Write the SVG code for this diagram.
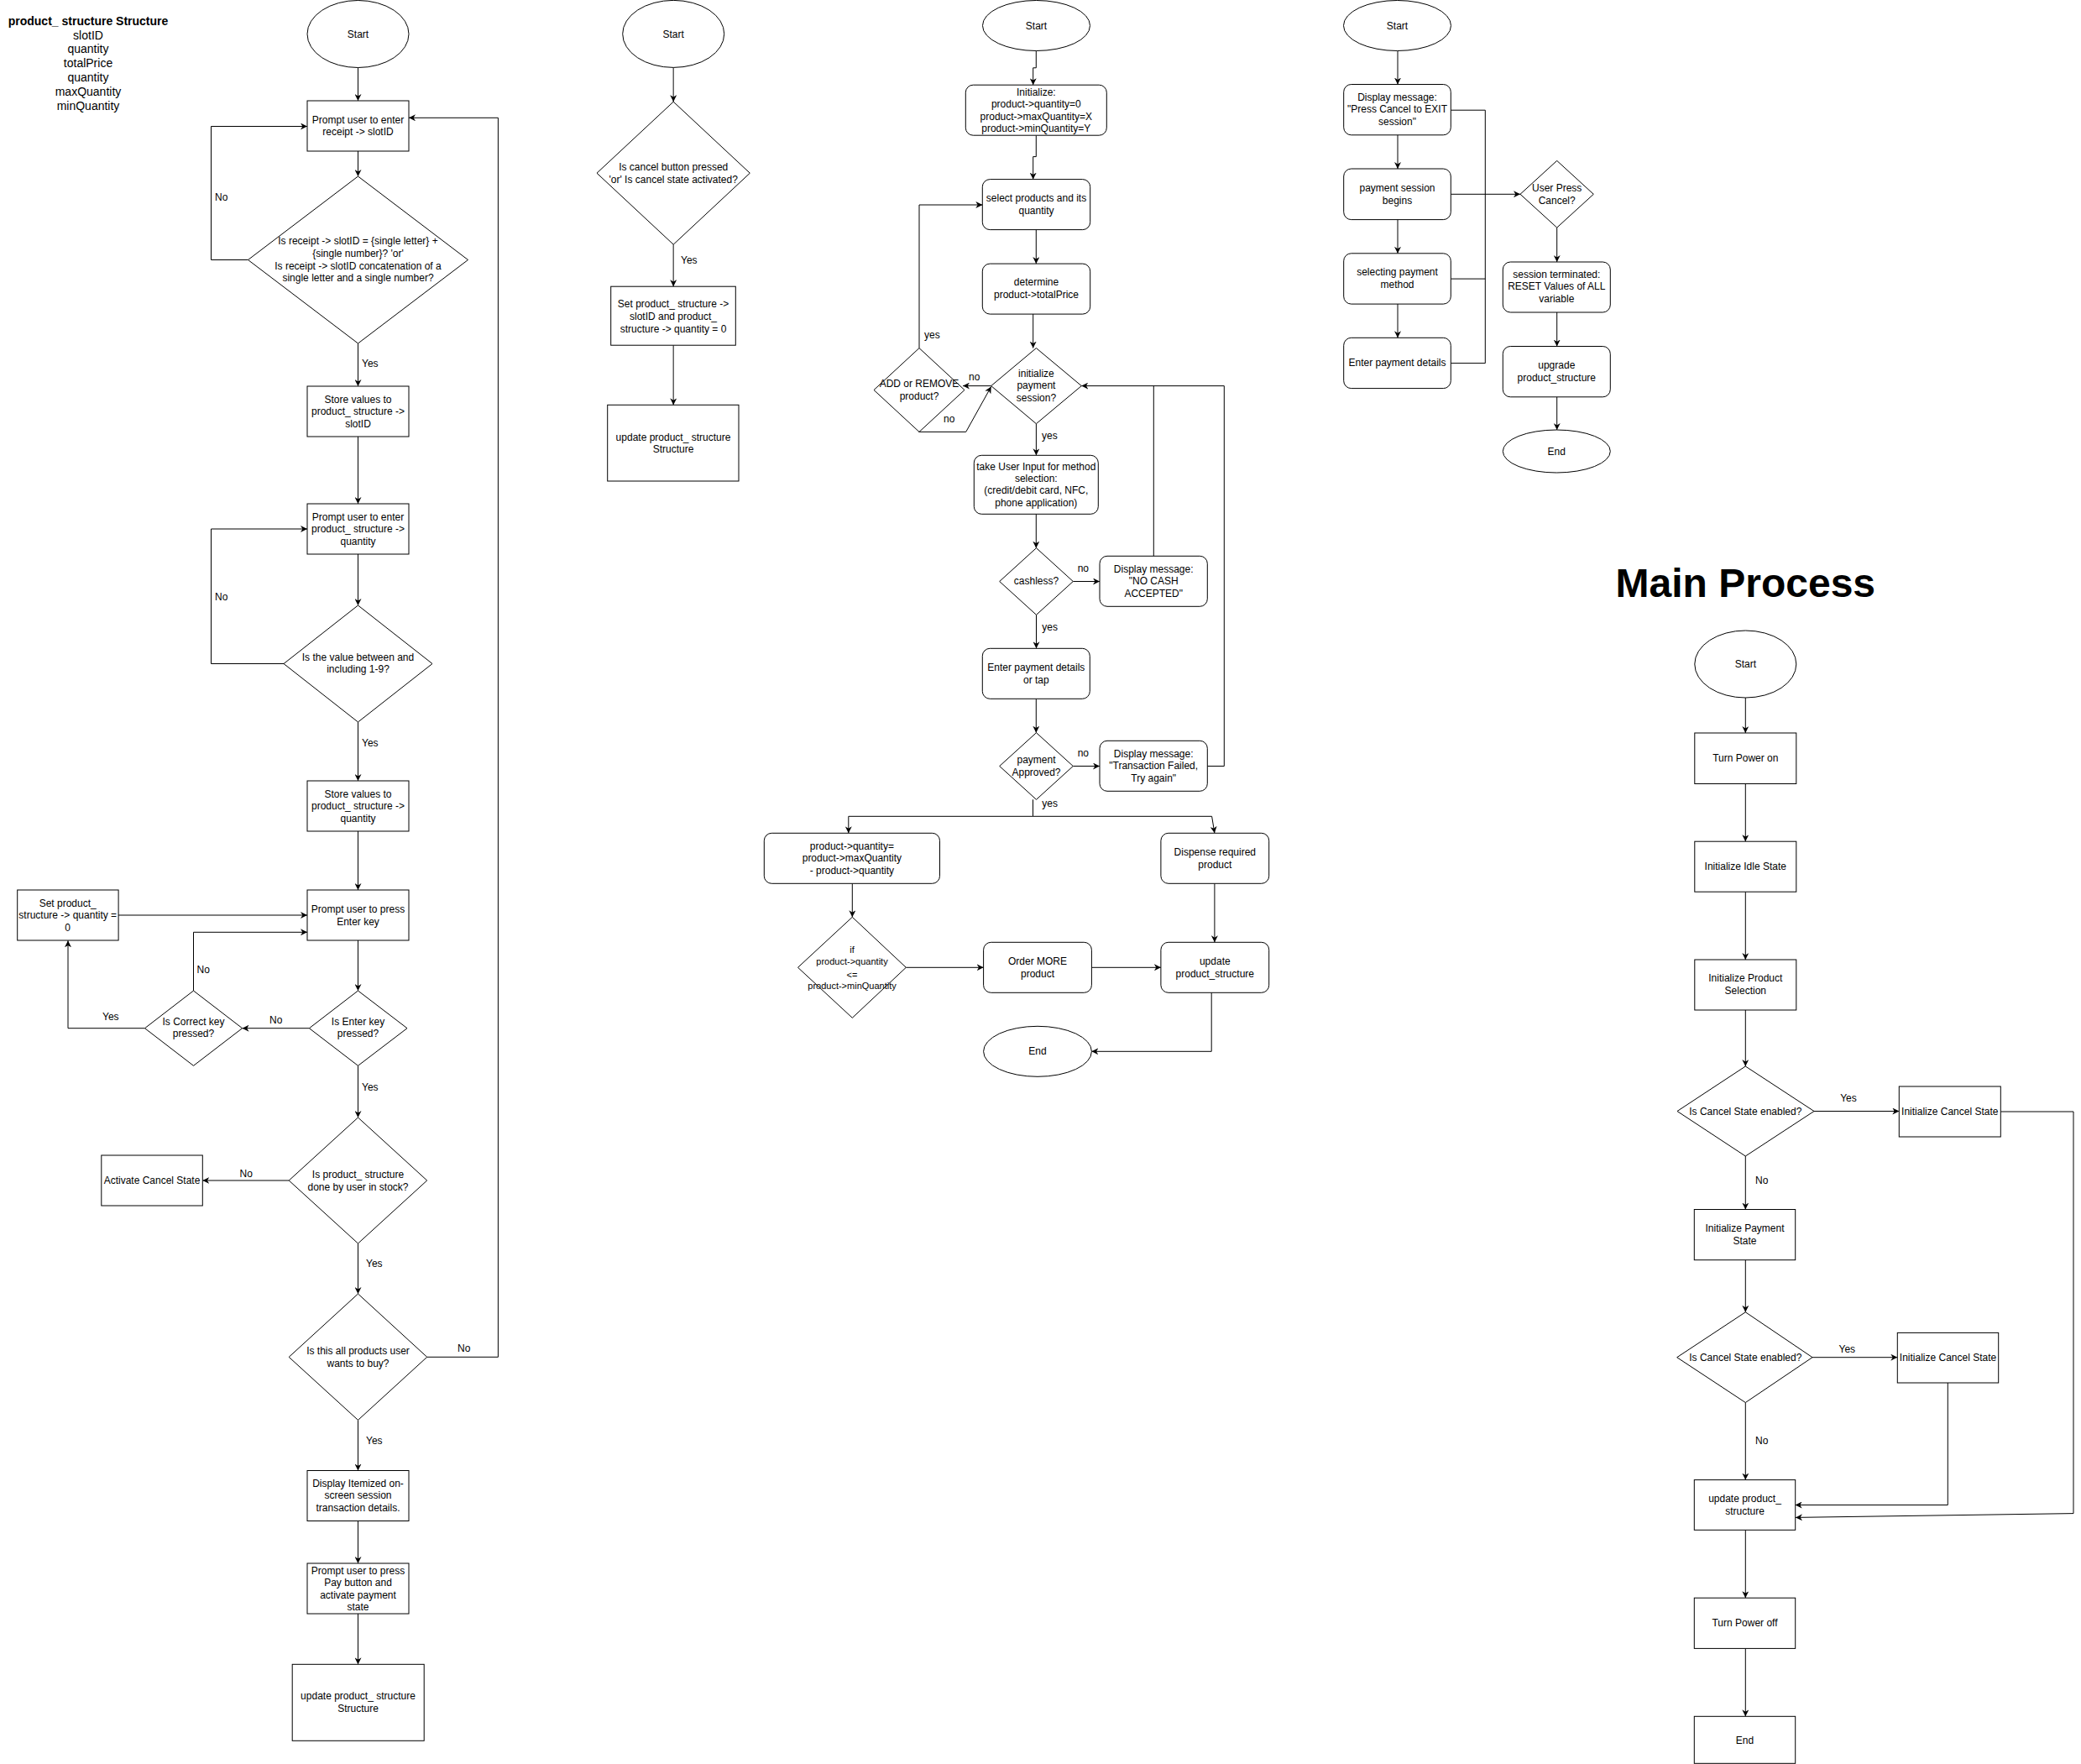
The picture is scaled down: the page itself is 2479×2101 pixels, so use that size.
<svg xmlns="http://www.w3.org/2000/svg" width="2479" height="2101" viewBox="0 0 2479 2101">
<style>
.n{fill:#fff;stroke:#000;stroke-width:1}
.t{font-family:"Liberation Sans",Arial,sans-serif;font-size:12px;fill:#000;text-anchor:middle}
.s{font-size:11px}
.h{font-family:"Liberation Sans",Arial,sans-serif;font-size:14px;fill:#000;text-anchor:middle}
.c{fill:none;stroke:#000;stroke-width:1}
.g{fill:none;stroke:#444;stroke-width:1.3}
.l{font-family:"Liberation Sans",Arial,sans-serif;font-size:12px;fill:#000}
</style>
<defs>
<marker id="a" viewBox="0 0 10 10" refX="10" refY="5" markerWidth="8" markerHeight="8" orient="auto" markerUnits="userSpaceOnUse"><path d="M0,0 L10,5 L0,10 L3,5 z" fill="#000"/></marker>
</defs>
<rect width="2479" height="2101" fill="#fff"/>

<!-- Structure legend -->
<g id="legend">
<text class="h" x="105" y="30" font-weight="bold">product_ structure Structure</text>
<text class="h" x="105" y="47">slotID</text>
<text class="h" x="105" y="63">quantity</text>
<text class="h" x="105" y="80">totalPrice</text>
<text class="h" x="105" y="97">quantity</text>
<text class="h" x="105" y="114">maxQuantity</text>
<text class="h" x="105" y="131">minQuantity</text>
</g>

<!-- ============ CONNECTORS ============ -->
<g id="connectors">
<!-- flow 1 -->
<path class="c" d="M426.5,80.5 V120" marker-end="url(#a)"/>
<path class="c" d="M426.5,180 V210" marker-end="url(#a)"/>
<path class="c" d="M295.5,309.5 H251.5 V150.5 H366" marker-end="url(#a)"/>
<text class="l" x="256" y="239">No</text>
<path class="c" d="M426.5,409 V460" marker-end="url(#a)"/>
<text class="l" x="431" y="437">Yes</text>
<path class="c" d="M426.5,520 V600" marker-end="url(#a)"/>
<path class="c" d="M426.5,660 V721" marker-end="url(#a)"/>
<path class="c" d="M338,790.5 H251.5 V630 H366" marker-end="url(#a)"/>
<text class="l" x="256" y="715">No</text>
<path class="c" d="M426.5,860 V930" marker-end="url(#a)"/>
<text class="l" x="431" y="889">Yes</text>
<path class="c" d="M426.5,990 V1060" marker-end="url(#a)"/>
<path class="c" d="M141,1090 H366" marker-end="url(#a)"/>
<path class="c" d="M230.5,1180 V1110.3 H366" marker-end="url(#a)"/>
<text class="l" x="234.5" y="1159">No</text>
<path class="c" d="M426.5,1120 V1180" marker-end="url(#a)"/>
<path class="c" d="M368.4,1224.7 H288.6" marker-end="url(#a)"/>
<text class="l" x="321" y="1219">No</text>
<path class="c" d="M172.5,1224.7 H81 V1120.3" marker-end="url(#a)"/>
<text class="l" x="122" y="1215">Yes</text>
<path class="c" d="M426.5,1269.3 V1331" marker-end="url(#a)"/>
<text class="l" x="431" y="1299">Yes</text>
<path class="c" d="M344.2,1406 H241.3" marker-end="url(#a)"/>
<text class="l" x="285.5" y="1402">No</text>
<path class="c" d="M426.5,1481 V1541" marker-end="url(#a)"/>
<text class="l" x="436" y="1509">Yes</text>
<path class="c" d="M508.7,1616.3 H593.4 V140.3 H487" marker-end="url(#a)"/>
<text class="l" x="545" y="1610">No</text>
<path class="c" d="M426.5,1691.4 V1751.5" marker-end="url(#a)"/>
<text class="l" x="436" y="1720">Yes</text>
<path class="c" d="M426.5,1811.5 V1862" marker-end="url(#a)"/>
<path class="c" d="M426.5,1922 V1982.3" marker-end="url(#a)"/>

<!-- flow 2 -->
<path class="g" d="M802.2,80.4 V121.2" marker-end="url(#a)"/>
<path class="g" d="M802.2,291.2 V341.2" marker-end="url(#a)"/>
<text class="l" x="811" y="313.6">Yes</text>
<path class="g" d="M802.2,411.2 V482.3" marker-end="url(#a)"/>

<!-- flow 3 -->
<path class="c" d="M1234.3,60.3 V80.8 H1230.7 V101.2" marker-end="url(#a)"/>
<path class="c" d="M1234.3,161.2 V186.6 H1230.7 V213.6" marker-end="url(#a)"/>
<path class="c" d="M1234.3,273.6 V314.1" marker-end="url(#a)"/>
<path class="c" d="M1230.7,374.1 V414.6" marker-end="url(#a)"/>
<path class="c" d="M1180.7,459.6 H1147" marker-end="url(#a)"/>
<text class="l" x="1154" y="453">no</text>
<path class="c" d="M1095,414.6 V244 H1170.3" marker-end="url(#a)"/>
<text class="l" x="1101" y="403">yes</text>
<path class="c" d="M1094.3,514.4 H1150.7 L1180.7,460.5" marker-end="url(#a)"/>
<text class="l" x="1124" y="503">no</text>
<path class="c" d="M1438.3,912.5 H1458.3 V459.6 H1288.3" marker-end="url(#a)"/>
<path class="c" d="M1374.3,662.3 V459.6"/>
<path class="c" d="M1234.4,504.7 V542.3" marker-end="url(#a)"/>
<text class="l" x="1241" y="523.4">yes</text>
<path class="c" d="M1234.3,612.3 V652.7" marker-end="url(#a)"/>
<path class="c" d="M1278.3,692.5 H1310" marker-end="url(#a)"/>
<text class="l" x="1283.7" y="681">no</text>
<path class="c" d="M1234.5,732.3 V772.3" marker-end="url(#a)"/>
<text class="l" x="1241.3" y="751">yes</text>
<path class="c" d="M1234.3,832.3 V872.7" marker-end="url(#a)"/>
<path class="c" d="M1278.3,912.5 H1310" marker-end="url(#a)"/>
<text class="l" x="1283.7" y="901">no</text>
<path class="c" d="M1230.5,952.3 V972.3"/>
<text class="l" x="1241.3" y="960.7">yes</text>
<path class="c" d="M1230.5,972.3 H1010.8 V992.3" marker-end="url(#a)"/>
<path class="c" d="M1230.5,972.3 H1443.6 L1446.9,992.3" marker-end="url(#a)"/>
<path class="c" d="M1015.3,1052.3 V1092.3" marker-end="url(#a)"/>
<path class="c" d="M1079.3,1152.3 H1171.6" marker-end="url(#a)"/>
<path class="c" d="M1300.4,1152.3 H1382.9" marker-end="url(#a)"/>
<path class="c" d="M1446.9,1052.3 V1122.3" marker-end="url(#a)"/>
<path class="c" d="M1443.2,1182.3 V1252.3 H1300.4" marker-end="url(#a)"/>

<!-- flow 4 -->
<path class="c" d="M1665,60.5 V100.5" marker-end="url(#a)"/>
<path class="c" d="M1665,160.8 V201" marker-end="url(#a)"/>
<path class="c" d="M1665,261.6 V301.8" marker-end="url(#a)"/>
<path class="c" d="M1665,362.1 V402.3" marker-end="url(#a)"/>
<path class="c" d="M1728.3,131.2 H1769.3 V432.6 H1728.3"/>
<path class="c" d="M1728.3,332.1 H1769.3"/>
<path class="c" d="M1728.3,231.3 H1811" marker-end="url(#a)"/>
<path class="c" d="M1854.7,271.1 V312" marker-end="url(#a)"/>
<path class="c" d="M1854.7,372 V412.5" marker-end="url(#a)"/>
<path class="c" d="M1854.7,472.8 V512" marker-end="url(#a)"/>

<!-- main process -->
<path class="c" d="M2079.3,831 V873" marker-end="url(#a)"/>
<path class="c" d="M2079.3,933.5 V1002.2" marker-end="url(#a)"/>
<path class="c" d="M2079.3,1062.3 V1143" marker-end="url(#a)"/>
<path class="c" d="M2079.3,1203 V1270" marker-end="url(#a)"/>
<path class="c" d="M2161,1323.5 H2262.3" marker-end="url(#a)"/>
<text class="t" x="2202" y="1312">Yes</text>
<path class="c" d="M2383.3,1324 H2470 V1802.6 L2139,1807.4" marker-end="url(#a)"/>
<path class="c" d="M2079.3,1377 V1440.5" marker-end="url(#a)"/>
<text class="l" x="2091" y="1409.5">No</text>
<path class="c" d="M2079.3,1500.7 V1562.8" marker-end="url(#a)"/>
<path class="c" d="M2159,1616.7 H2260.3" marker-end="url(#a)"/>
<text class="t" x="2200.3" y="1610.6">Yes</text>
<path class="c" d="M2320.3,1647 V1792.5 H2138.7" marker-end="url(#a)"/>
<path class="c" d="M2079.3,1670.5 V1762.6" marker-end="url(#a)"/>
<text class="l" x="2091" y="1720">No</text>
<path class="c" d="M2079.3,1822.3 V1903.2" marker-end="url(#a)"/>
<path class="c" d="M2079.3,1963.4 V2044.3" marker-end="url(#a)"/>
</g>

<!-- ============ FLOW 1 NODES ============ -->
<g id="f1-start"><ellipse class="n" cx="426.5" cy="40.5" rx="60.5" ry="40"/><text class="t" x="426.5" y="44.5">Start</text></g>
<g id="f1-prompt-slot"><rect class="n" x="366" y="120" width="121" height="60"/><text class="t" x="426.5" y="146.7">Prompt user to enter</text><text class="t" x="426.5" y="161.3">receipt -&gt; slotID</text></g>
<g id="f1-check-slot"><polygon class="n" points="426.5,210 557.5,309.5 426.5,409 295.5,309.5"/>
<text class="t" x="426.5" y="291.3">Is receipt -&gt; slotID = {single letter} +</text>
<text class="t" x="426.5" y="305.7">{single number}? 'or'</text>
<text class="t" x="426.5" y="320.7">Is receipt -&gt; slotID concatenation of a</text>
<text class="t" x="426.5" y="335">single letter and a single number?</text></g>
<g id="f1-store-slot"><rect class="n" x="366" y="460" width="121" height="60"/><text class="t" x="426.5" y="480">Store values to</text><text class="t" x="426.5" y="494">product_ structure -&gt;</text><text class="t" x="426.5" y="509">slotID</text></g>
<g id="f1-prompt-qty"><rect class="n" x="366" y="600" width="121" height="60"/><text class="t" x="426.5" y="620">Prompt user to enter</text><text class="t" x="426.5" y="634">product_ structure -&gt;</text><text class="t" x="426.5" y="649">quantity</text></g>
<g id="f1-check-qty"><polygon class="n" points="426.5,721 515,790.5 426.5,860 338,790.5"/><text class="t" x="426.5" y="787">Is the value between and</text><text class="t" x="426.5" y="801.3">including 1-9?</text></g>
<g id="f1-store-qty"><rect class="n" x="366" y="930" width="121" height="60"/><text class="t" x="426.5" y="950">Store values to</text><text class="t" x="426.5" y="964">product_ structure -&gt;</text><text class="t" x="426.5" y="979">quantity</text></g>
<g id="f1-prompt-enter"><rect class="n" x="366" y="1060" width="121" height="60"/><text class="t" x="426.5" y="1087">Prompt user to press</text><text class="t" x="426.5" y="1102">Enter key</text></g>
<g id="f1-set-zero"><rect class="n" x="20.7" y="1060" width="120.4" height="60"/><text class="t" x="80.7" y="1080">Set product_</text><text class="t" x="80.7" y="1094">structure -&gt; quantity =</text><text class="t" x="80.7" y="1109">0</text></g>
<g id="f1-enter-key"><polygon class="n" points="426.5,1180 485,1224.7 426.5,1269.3 368.4,1224.7"/><text class="t" x="426.5" y="1221">Is Enter key</text><text class="t" x="426.5" y="1235.3">pressed?</text></g>
<g id="f1-correct-key"><polygon class="n" points="230.5,1180 288.6,1224.7 230.5,1269.3 172.5,1224.7"/><text class="t" x="230.5" y="1221">Is Correct key</text><text class="t" x="230.5" y="1235.3">pressed?</text></g>
<g id="f1-stock"><polygon class="n" points="426.5,1331 508.7,1406 426.5,1481 344.2,1406"/><text class="t" x="426.5" y="1403">Is product_ structure</text><text class="t" x="426.5" y="1417.7">done by user in stock?</text></g>
<g id="f1-cancel"><rect class="n" x="120.8" y="1376" width="120.5" height="60"/><text class="t" x="181" y="1410">Activate Cancel State</text></g>
<g id="f1-all"><polygon class="n" points="426.5,1541 508.7,1616.3 426.5,1691.4 344.2,1616.3"/><text class="t" x="426.5" y="1613.4">Is this all products user</text><text class="t" x="426.5" y="1628.4">wants to buy?</text></g>
<g id="f1-display"><rect class="n" x="366" y="1751.5" width="121" height="60"/><text class="t" x="426.5" y="1771">Display Itemized on-</text><text class="t" x="426.5" y="1785">screen session</text><text class="t" x="426.5" y="1800">transaction details.</text></g>
<g id="f1-pay"><rect class="n" x="366" y="1862" width="121" height="60"/><text class="t" x="426.5" y="1874.6">Prompt user to press</text><text class="t" x="426.5" y="1888.8">Pay button and</text><text class="t" x="426.5" y="1903.8">activate payment</text><text class="t" x="426.5" y="1917.7">state</text></g>
<g id="f1-update"><rect class="n" x="348.2" y="1982.3" width="157" height="91"/><text class="t" x="426.5" y="2024.4">update product_ structure</text><text class="t" x="426.5" y="2039">Structure</text></g>

<!-- ============ FLOW 2 NODES ============ -->
<g id="f2-start"><ellipse class="n" cx="802.2" cy="40.4" rx="60.5" ry="40"/><text class="t" x="802.2" y="44.5">Start</text></g>
<g id="f2-check"><polygon class="n" points="802.2,121.2 893.3,206.2 802.2,291.2 711,206.2"/><text class="t" x="802.2" y="203.2">Is cancel button pressed</text><text class="t" x="802.2" y="218.2">'or' Is cancel state activated?</text></g>
<g id="f2-set"><rect class="n" x="727.7" y="341.2" width="148.6" height="70"/><text class="t" x="802" y="365.5">Set product_ structure -&gt;</text><text class="t" x="802" y="381">slotID and product_</text><text class="t" x="802" y="396.3">structure -&gt; quantity = 0</text></g>
<g id="f2-update"><rect class="n" x="723.7" y="482.3" width="156.3" height="90.7"/><text class="t" x="802" y="524.8">update product_ structure</text><text class="t" x="802" y="538.6">Structure</text></g>

<!-- ============ FLOW 3 NODES ============ -->
<g id="f3-start"><ellipse class="n" cx="1234.5" cy="30.5" rx="64" ry="30"/><text class="t" x="1234.5" y="34.5">Start</text></g>
<g id="f3-init"><rect class="n" x="1150.3" y="101.2" width="168" height="60" rx="9"/><text class="t" x="1234.3" y="113.5">Initialize:</text><text class="t" x="1234.3" y="127.8">product-&gt;quantity=0</text><text class="t" x="1234.3" y="142.5">product-&gt;maxQuantity=X</text><text class="t" x="1234.3" y="156.9">product-&gt;minQuantity=Y</text></g>
<g id="f3-select"><rect class="n" x="1170.3" y="213.6" width="128.4" height="60" rx="9"/><text class="t" x="1234.5" y="239.8">select products and its</text><text class="t" x="1234.5" y="254.9">quantity</text></g>
<g id="f3-total"><rect class="n" x="1170.3" y="314.1" width="128.4" height="60" rx="9"/><text class="t" x="1234.5" y="340.3">determine</text><text class="t" x="1234.5" y="355.4">product-&gt;totalPrice</text></g>
<g id="f3-initpay"><polygon class="n" points="1234.4,414.6 1288.3,459.6 1234.4,504.7 1180.7,459.6"/><text class="t" x="1234.4" y="449">initialize</text><text class="t" x="1234.4" y="463.4">payment</text><text class="t" x="1234.4" y="478">session?</text></g>
<g id="f3-addremove"><polygon class="n" points="1095,414.6 1149,464.5 1095,514.4 1041,464.5"/><text class="t" x="1095" y="461">ADD or REMOVE</text><text class="t" x="1095" y="476">product?</text></g>
<g id="f3-method"><rect class="n" x="1160.3" y="542.3" width="148" height="70" rx="9"/><text class="t" x="1234.3" y="559.7">take User Input for method</text><text class="t" x="1234.3" y="573.7">selection:</text><text class="t" x="1234.3" y="588.3">(credit/debit card, NFC,</text><text class="t" x="1234.3" y="602.7">phone application)</text></g>
<g id="f3-cashless"><polygon class="n" points="1234.5,652.7 1278.3,692.5 1234.5,732.3 1190.7,692.5"/><text class="t" x="1234.5" y="696">cashless?</text></g>
<g id="f3-nocash"><rect class="n" x="1310" y="662.3" width="128.3" height="60" rx="9"/><text class="t" x="1374.2" y="681.7">Display message:</text><text class="t" x="1374.2" y="696">"NO CASH</text><text class="t" x="1374.2" y="710.7">ACCEPTED"</text></g>
<g id="f3-enterpay"><rect class="n" x="1170.3" y="772.3" width="128" height="60" rx="9"/><text class="t" x="1234.3" y="799">Enter payment details</text><text class="t" x="1234.3" y="814">or tap</text></g>
<g id="f3-approved"><polygon class="n" points="1234.5,872.7 1278.3,912.5 1234.5,952.3 1190.7,912.5"/><text class="t" x="1234.5" y="909">payment</text><text class="t" x="1234.5" y="923.7">Approved?</text></g>
<g id="f3-failed"><rect class="n" x="1310" y="882.3" width="128.3" height="60" rx="9"/><text class="t" x="1374.2" y="901.7">Display message:</text><text class="t" x="1374.2" y="915.7">"Transaction Failed,</text><text class="t" x="1374.2" y="930.7">Try again"</text></g>
<g id="f3-calc"><rect class="n" x="910.3" y="992.3" width="209.2" height="60" rx="9"/><text class="t" x="1014.9" y="1012.3">product-&gt;quantity=</text><text class="t" x="1014.9" y="1026">product-&gt;maxQuantity</text><text class="t" x="1014.9" y="1041">- product-&gt;quantity</text></g>
<g id="f3-dispense"><rect class="n" x="1382.9" y="992.3" width="128.8" height="60" rx="9"/><text class="t" x="1447.3" y="1019">Dispense required</text><text class="t" x="1447.3" y="1034">product</text></g>
<g id="f3-min"><polygon class="n" points="1015.3,1092.3 1079.3,1152.3 1015.3,1212.3 950.5,1152.3"/><text class="t s" x="1015" y="1135">if</text><text class="t s" x="1015" y="1149.3">product-&gt;quantity</text><text class="t s" x="1015" y="1164.7">&lt;=</text><text class="t s" x="1015" y="1178.3">product-&gt;minQuantity</text></g>
<g id="f3-order"><rect class="n" x="1171.6" y="1122.3" width="128.8" height="60" rx="9"/><text class="t" x="1236" y="1149">Order MORE</text><text class="t" x="1236" y="1164">product</text></g>
<g id="f3-update"><rect class="n" x="1382.9" y="1122.3" width="128.8" height="60" rx="9"/><text class="t" x="1447.3" y="1149">update</text><text class="t" x="1447.3" y="1164">product_structure</text></g>
<g id="f3-end"><ellipse class="n" cx="1236" cy="1252.3" rx="64.4" ry="30"/><text class="t" x="1236" y="1256.3">End</text></g>

<!-- ============ FLOW 4 NODES ============ -->
<g id="f4-start"><ellipse class="n" cx="1664.5" cy="30.5" rx="64" ry="30"/><text class="t" x="1664.5" y="34.5">Start</text></g>
<g id="f4-msg"><rect class="n" x="1600.7" y="100.5" width="127.6" height="60.3" rx="9"/><text class="t" x="1664.5" y="120.2">Display message:</text><text class="t" x="1664.5" y="134.4">"Press Cancel to EXIT</text><text class="t" x="1664.5" y="149.4">session"</text></g>
<g id="f4-session"><rect class="n" x="1600.7" y="201" width="127.6" height="60.6" rx="9"/><text class="t" x="1664.5" y="227.6">payment session</text><text class="t" x="1664.5" y="243">begins</text></g>
<g id="f4-method"><rect class="n" x="1600.7" y="301.8" width="127.6" height="60.3" rx="9"/><text class="t" x="1664.5" y="328.4">selecting payment</text><text class="t" x="1664.5" y="343.4">method</text></g>
<g id="f4-details"><rect class="n" x="1600.7" y="402.3" width="127.6" height="60.3" rx="9"/><text class="t" x="1664.5" y="436.2">Enter payment details</text></g>
<g id="f4-cancel"><polygon class="n" points="1854.7,191.4 1898.3,231.3 1854.7,271.1 1811,231.3"/><text class="t" x="1854.7" y="227.6">User Press</text><text class="t" x="1854.7" y="243">Cancel?</text></g>
<g id="f4-terminated"><rect class="n" x="1790.3" y="312" width="128" height="60" rx="9"/><text class="t" x="1854.3" y="331.4">session terminated:</text><text class="t" x="1854.3" y="345.2">RESET Values of ALL</text><text class="t" x="1854.3" y="360.2">variable</text></g>
<g id="f4-upgrade"><rect class="n" x="1790.3" y="412.5" width="128" height="60.3" rx="9"/><text class="t" x="1854.3" y="439.1">upgrade</text><text class="t" x="1854.3" y="453.8">product_structure</text></g>
<g id="f4-end"><ellipse class="n" cx="1854.3" cy="537.5" rx="64" ry="25.5"/><text class="t" x="1854.3" y="541.5">End</text></g>

<!-- ============ MAIN PROCESS ============ -->
<g id="main-title"><text x="2079.3" y="710.6" font-family="Liberation Sans, Arial, sans-serif" font-size="48" font-weight="bold" text-anchor="middle">Main Process</text></g>
<g id="m-start"><ellipse class="n" cx="2079.3" cy="791" rx="60.5" ry="40"/><text class="t" x="2079.3" y="795">Start</text></g>
<g id="m-power-on"><rect class="n" x="2018.8" y="873" width="121" height="60.5"/><text class="t" x="2079.3" y="907">Turn Power on</text></g>
<g id="m-idle"><rect class="n" x="2018.8" y="1002.2" width="121" height="60"/><text class="t" x="2079.3" y="1036">Initialize Idle State</text></g>
<g id="m-product"><rect class="n" x="2018.8" y="1143" width="121" height="60"/><text class="t" x="2079.3" y="1169">Initialize Product</text><text class="t" x="2079.3" y="1184.3">Selection</text></g>
<g id="m-cancel-q1"><polygon class="n" points="2079.3,1270 2161,1323.5 2079.3,1377 1998,1323.5"/><text class="t" x="2079.3" y="1327.5">Is Cancel State enabled?</text></g>
<g id="m-cancel1"><rect class="n" x="2262.3" y="1294" width="121" height="60"/><text class="t" x="2322.8" y="1327.5">Initialize Cancel State</text></g>
<g id="m-payment"><rect class="n" x="2018.3" y="1440.5" width="120.4" height="60.2"/><text class="t" x="2078.5" y="1467">Initialize Payment</text><text class="t" x="2078.5" y="1482">State</text></g>
<g id="m-cancel-q2"><polygon class="n" points="2079.3,1562.8 2159,1616.7 2079.3,1670.5 1997.7,1616.7"/><text class="t" x="2079.3" y="1620.7">Is Cancel State enabled?</text></g>
<g id="m-cancel2"><rect class="n" x="2260.3" y="1587.4" width="120.4" height="59.6"/><text class="t" x="2320.5" y="1620.7">Initialize Cancel State</text></g>
<g id="m-update"><rect class="n" x="2018.3" y="1762.6" width="120.4" height="59.7"/><text class="t" x="2078.5" y="1788.8">update product_</text><text class="t" x="2078.5" y="1803.7">structure</text></g>
<g id="m-power-off"><rect class="n" x="2018.3" y="1903.2" width="120.4" height="60.2"/><text class="t" x="2078.5" y="1936.6">Turn Power off</text></g>
<g id="m-end"><rect class="n" x="2018.3" y="2044.3" width="120.4" height="56"/><text class="t" x="2078.5" y="2077">End</text></g>
</svg>
